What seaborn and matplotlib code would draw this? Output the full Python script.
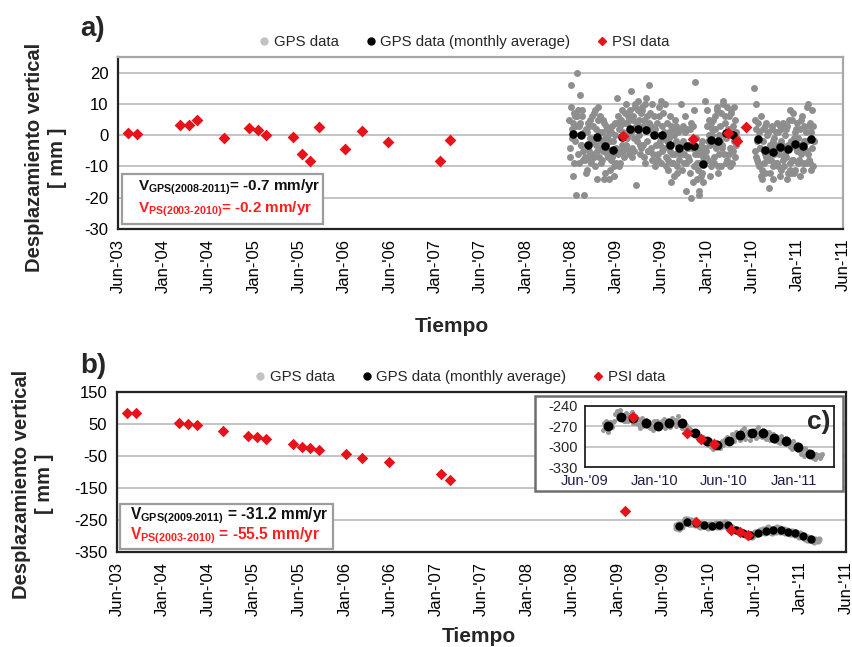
import matplotlib
matplotlib.use("Agg")
import matplotlib.pyplot as plt
from matplotlib.lines import Line2D
from matplotlib.patches import Rectangle
import pandas as pd
import seaborn as sns

sns.set_style("white")
plt.rcParams["font.family"] = ["Liberation Sans", "DejaVu Sans"]
plt.rcParams["mathtext.fontset"] = "custom"
plt.rcParams["mathtext.rm"] = "Liberation Sans"
plt.rcParams["mathtext.bf"] = "Liberation Sans:bold"
plt.rcParams["axes.unicode_minus"] = False

# Time axis: months counted from June 2003, one tick every six months
tick_labels = ["Jun-'03", "Jan-'04", "Jun-'04", "Jan-'05", "Jun-'05", "Jan-'06",
               "Jun-'06", "Jan-'07", "Jun-'07", "Jan-'08", "Jun-'08", "Jan-'09",
               "Jun-'09", "Jan-'10", "Jun-'10", "Jan-'11", "Jun-'11"]
inset_tick_labels = ["Jun-'09", "Jan-'10", "Jun-'10", "Jan-'11"]

# PSI (ENVISAT) acquisitions, shared by both stations
psi_months = [1.3, 2.5, 8.2, 9.4, 10.5, 14.0, 17.3, 18.5, 19.6, 23.2, 24.3, 25.4,
              26.6, 30.1, 32.3, 35.8, 42.7, 43.9, 66.9, 76.2, 80.8, 82.0, 83.1]
psi_a_mm = [0.7, 0.5, 3.2, 3.1, 5.0, -0.9, 2.2, 1.7, 0.0, -0.6, -6.1, -8.3,
            2.5, -4.4, 1.4, -2.2, -8.4, -1.6, -0.4, -1.2, 0.6, -1.9, 2.6]
psi_b_mm = [85, 85, 53, 51, 47, 27, 14, 10, 3, -13, -21, -24,
            -31, -45, -56, -70, -107, -125, -221, -257, -280, -288, -296]

# GPS monthly averages
gps_a_avg_months = [60.2, 61.3, 62.3, 63.4, 64.5, 65.5, 66.8, 67.8, 68.9, 69.9,
                    71.0, 72.0, 73.1, 74.3, 75.3, 76.3, 77.5, 78.5, 79.4, 80.5,
                    81.4, 84.8, 85.7, 86.7, 87.7, 88.7, 89.7, 90.7, 91.7]
gps_a_avg_mm = [0.3, 0.2, -3.0, -0.7, -3.4, -4.6, -0.5, 2.1, 1.9, 1.5,
                0.2, 0.2, -3.0, -4.1, -3.6, -3.6, -9.2, -1.5, -1.9, 0.8,
                0.0, -1.2, -4.7, -5.5, -3.9, -4.5, -2.9, -3.4, -1.2]
gps_b_avg_months = [74.0, 75.1, 76.2, 77.3, 78.3, 79.3, 80.4, 81.5, 82.5,
                    83.4, 84.4, 85.4, 86.4, 87.4, 88.3, 89.3, 90.4, 91.4]
gps_b_avg_mm = [-269, -256, -258, -266, -269, -266, -265, -280, -292,
                -297, -291, -283, -280, -280, -287, -291, -301, -310]

# GPS daily solutions, one row per month
gps_a1_first_month = 59.7
gps_a1_row_months = 1.06
gps_a1_mm = [
    [5, -7, -4, 9, 16, -1, 2, 4, -13, -9, 7, 6, -2, -19, 3, 6],
    [20, 8, -6, -9, 3, 4, 13, -3, -3, 6, 8, -8, -5, 1, -19, -7],
    [-8, -12, 2, 1, -11, -7, 4, 3, -5, 5, -1, -9, -8, 6, -6, -2],
    [3, 7, -7, -10, 8, 2, -3, -5, -14, 9, 5, 1, -7, -4, 6, -2],
    [-9, -8, 1, 5, -5, -14, 4, -1, -12, 3, -3, 2, -6, -7, 0, -5],
    [-14, -11, -2, 1, -8, -7, 3, -2, -6, -13, -10, 0, 4, -4, -9, 4],
    [12, 6, -6, -10, 2, 3, -9, -5, 5, 8, -3, 1, -5, -7, 4, -4],
    [7, 10, -3, -1, 4, 6, 0, -6, 5, 8, -5, 14, 1, -4, -7, 5],
    [6, -5, -1, 10, 9, 3, -16, -2, 4, 11, 8, 0, 5, -6, -3, 7],
    [-4, 9, 8, -3, 3, 5, -7, -9, 10, 12, 2, -2, 6, -5, -5, 4],
    [16, 7, -5, -4, 3, 10, -8, -6, 1, 2, 6, -10, 2, -8, -3, 0],
    [4, -8, -6, 6, 9, -3, -2, 11, -9, -5, 3, 7, 0, -4, 1, -1],
    [10, -10, -7, 4, -2, -8, -11, -1, 1, 6, -5, -15, 3, -9, -6, 2],
    [-9, -13, 0, 5, -6, -2, 3, -10, -12, 1, -3, -8, -6, 2, -5, -3],
    [10, -11, -6, 3, -2, -6, -9, 6, 1, -18, -9, -4, 2, -4, -7, -3],
    [-8, -12, 2, 4, -20, -3, -4, -15, 3, -10, 8, 17, -6, -4, -1, -9],
    [-14, -11, -6, -19, -18, -5, -9, -13, -3, -12, -2, -7, -15, -5, -4, -4],
    [11, -7, -5, 8, 3, -2, -8, 5, 0, -3, -13, 4, -10, 0, 2, -9],
    [5, -9, -7, 6, 2, -3, -4, 9, 8, -10, -12, 0, -6, -2, 3, -10],
    [7, -4, -3, 11, 10, 0, -6, 6, 4, -1, -9, 9, -8, 1, 2, -6],
    [6, -10, -4, 7, 8, 2, -9, -5, 3, -2, 9, 5, -7, -3, 1, -1],
]
gps_a2_first_month = 84.2
gps_a2_row_months = 1.0
gps_a2_mm = [
    [15, 5, -5, -7, 2, 10, -8, -2, 4, -9, -10, 1, -4, -4, 6, -13],
    [-14, -11, -2, 2, -9, -5, 3, -12, -6, 4, -7, 0, -5, -6, 1, -8],
    [-17, -12, -3, -5, -8, 3, 2, -14, -10, -2, -1, -6, -3, -4, -9, 1],
    [-9, 4, 1, -10, -6, -3, 3, -13, -11, 2, -2, -4, -3, 4, -8, -7],
    [-10, -6, 0, 2, -7, -14, 3, -3, -12, 5, -4, 8, -11, -9, -2, -12],
    [5, -8, -8, 7, -1, -12, -11, 1, 2, -4, -5, 4, -1, -9, -3, -3],
    [-8, -13, 2, 5, -6, -4, 6, -9, -11, 3, -2, -5, -2, 1, -9, -2],
    [9, -5, -6, 10, 3, -8, -9, 4, 1, -11, -4, 8, 3, -10, -2, -2],
]
gps_b_first_month = 73.5
gps_b_row_months = 1.0
gps_b_mm = [
    [-275, -266, -272, -262, -270, -278, -264, -268, -271, -264],
    [-262, -252, -248, -258, -255, -247, -260, -253, -263, -262],
    [-250, -257, -262, -254, -261, -249, -265, -256, -260, -266],
    [-260, -268, -272, -262, -258, -270, -266, -261, -269, -264],
    [-264, -272, -268, -275, -262, -270, -266, -263, -271, -269],
    [-270, -262, -267, -259, -272, -265, -261, -268, -271, -265],
    [-258, -266, -261, -270, -263, -255, -268, -264, -272, -273],
    [-266, -270, -268, -274, -272, -278, -276, -281, -277, -278],
    [-280, -284, -283, -290, -286, -292, -285, -291, -289, -290],
    [-292, -298, -290, -300, -294, -303, -296, -299, -293, -295],
    [-298, -302, -295, -291, -297, -289, -293, -286, -290, -289],
    [-289, -281, -287, -292, -283, -279, -286, -284, -290, -279],
    [-276, -284, -272, -288, -279, -283, -277, -290, -280, -281],
    [-283, -275, -287, -279, -271, -284, -278, -286, -276, -281],
    [-281, -288, -283, -279, -290, -284, -287, -282, -291, -285],
    [-286, -293, -288, -295, -284, -291, -289, -296, -287, -291],
    [-293, -300, -295, -303, -292, -299, -301, -296, -304, -297],
    [-303, -310, -305, -313, -302, -309, -311, -306, -314, -307],
    [-309, -316, -311, -318, -310, -314, -312, -317, -313, -310],
]

RED = "#e8121a"
TEXT_RED = "#ff1f1f"


def daily_frame(first_month, row_months, rows):
    """Spread each month's samples evenly over that month."""
    recs = []
    for r, vals in enumerate(rows):
        n = len(vals)
        for i, v in enumerate(vals):
            recs.append((first_month + (r + (i + 0.5) / n) * row_months, v))
    return pd.DataFrame(recs, columns=["month", "mm"])


gps_a_daily = pd.concat([daily_frame(gps_a1_first_month, gps_a1_row_months, gps_a1_mm),
                         daily_frame(gps_a2_first_month, gps_a2_row_months, gps_a2_mm)])
gps_b_daily = daily_frame(gps_b_first_month, gps_b_row_months, gps_b_mm)
psi_a = pd.DataFrame({"month": psi_months, "mm": psi_a_mm})
psi_b = pd.DataFrame({"month": psi_months, "mm": psi_b_mm})
avg_a = pd.DataFrame({"month": gps_a_avg_months, "mm": gps_a_avg_mm})
avg_b = pd.DataFrame({"month": gps_b_avg_months, "mm": gps_b_avg_mm})


def draw_points(ax, daily, avg, psi, gray, gray_s, avg_s, psi_s):
    sns.scatterplot(data=daily, x="month", y="mm", ax=ax, color=gray, s=gray_s,
                    linewidth=0, zorder=2, legend=False)
    sns.scatterplot(data=avg, x="month", y="mm", ax=ax, color="black", s=avg_s,
                    linewidth=0, zorder=3, legend=False)
    sns.scatterplot(data=psi, x="month", y="mm", ax=ax, color=RED, marker="D",
                    s=psi_s, linewidth=0, zorder=4, legend=False)
    ax.set_xlabel("")
    ax.set_ylabel("")


def style_main(ax, ylim, yticks, frame_color):
    ax.set_xlim(0, 96)
    ax.set_ylim(*ylim)
    ax.set_xticks(range(0, 97, 6))
    ax.set_xticklabels(tick_labels, rotation=90)
    ax.set_yticks(yticks)
    ax.yaxis.grid(True, color="#c4c4c4", linewidth=1.4)
    ax.xaxis.grid(False)
    ax.set_axisbelow(True)
    ax.tick_params(axis="both", direction="out", length=5, width=1.3,
                   colors="black", labelsize=12, pad=2)
    for side in ("left", "bottom"):
        ax.spines[side].set_color("#222222")
        ax.spines[side].set_linewidth(1.6)
    for side in ("top", "right"):
        ax.spines[side].set_color(frame_color)
        ax.spines[side].set_linewidth(1.6)


def rate_box(ax, rect, x, y1, y2, gps_text, ps_text, size):
    ax.add_patch(Rectangle(rect[:2], rect[2], rect[3], transform=ax.transAxes,
                           facecolor="white", edgecolor="#9c9c9c", linewidth=1.6,
                           zorder=5, clip_on=False))
    ax.text(x, y1, gps_text, transform=ax.transAxes, fontsize=size,
            fontweight="bold", color="#111111", va="center", zorder=6)
    ax.text(x, y2, ps_text, transform=ax.transAxes, fontsize=size,
            fontweight="bold", color=TEXT_RED, va="center", zorder=6)


fig = plt.figure(figsize=(8.52, 6.47), dpi=100)
W, H = 852.0, 647.0


def px_axes(x0, y0, x1, y1):
    return fig.add_axes([x0 / W, 1 - y1 / H, (x1 - x0) / W, (y1 - y0) / H])


# ---- a) station with stable GPS ----
ax_a = px_axes(118, 57, 843, 229)
draw_points(ax_a, gps_a_daily, avg_a, psi_a, "#8e8e8e", 25, 38, 36)
style_main(ax_a, (-30, 25), [-30, -20, -10, 0, 10, 20], "#a8a8a8")
rate_box(ax_a, (0.006, 0.03, 0.277, 0.29), 0.027, 0.245, 0.115,
         "V$_{\\mathbf{GPS(2008\u20102011)}}$= -0.7 mm/yr",
         "V$_{\\mathbf{PS(2003\u20102010)}}$= -0.2 mm/yr", 11)

# ---- b) subsiding station ----
ax_b = px_axes(117, 392, 846, 552)
draw_points(ax_b, gps_b_daily, avg_b, psi_b, "#9a9a9a", 20, 36, 34)
style_main(ax_b, (-350, 150), [-350, -250, -150, -50, 50, 150], "#222222")
rate_box(ax_b, (0.004, 0.02, 0.292, 0.28), 0.018, 0.227, 0.1,
         "V$_{\\mathbf{GPS(2009\u20102011)}}$ = -31.2 mm/yr",
         "V$_{\\mathbf{PS(2003\u20102010)}}$ = -55.5 mm/yr", 11.2)

# ---- c) zoom on the GPS period of b) ----
fig.add_artist(Rectangle((535 / W, 1 - 490.7 / H), 307.7 / W, 94.7 / H,
                         transform=fig.transFigure, facecolor="white",
                         edgecolor="#6e6e6e", linewidth=1.8, zorder=3))
ax_c = px_axes(584.7, 405.7, 834.3, 467.3)
ax_c.set_zorder(4)
draw_points(ax_c, gps_b_daily, avg_b, psi_b, "#999999", 13, 50, 36)
ax_c.set_xlim(72, 93.5)
ax_c.set_ylim(-330, -240)
ax_c.set_xticks([72, 78, 84, 90])
ax_c.set_xticklabels(inset_tick_labels)
ax_c.set_yticks([-330, -300, -270, -240])
ax_c.yaxis.grid(True, color="#c4c4c4", linewidth=1.3)
ax_c.set_axisbelow(True)
ax_c.tick_params(axis="both", direction="out", length=4, width=1.2,
                 labelsize=10.5, pad=1)
for lab in ax_c.get_xticklabels():
    lab.set_color("#1e1c44")
for side in ax_c.spines.values():
    side.set_color("#222222")
    side.set_linewidth(1.3)
ax_c.text(0.985, 0.74, "c)", transform=ax_c.transAxes, fontsize=19,
          fontweight="bold", ha="right", va="center")

# ---- labels and legends ----
ylab = "Desplazamiento vertical\n[ mm ]"
fig.text(46 / W, 1 - 157.5 / H, ylab, rotation=90, ha="center", va="center",
         fontsize=14.5, fontweight="bold", linespacing=1.3)
fig.text(33 / W, 1 - 484 / H, ylab, rotation=90, ha="center", va="center",
         fontsize=14.5, fontweight="bold", linespacing=1.3)
fig.text(452 / W, 1 - 326.5 / H, "Tiempo", ha="center", va="center",
         fontsize=15, fontweight="bold")
fig.text(479 / W, 1 - 636.5 / H, "Tiempo", ha="center", va="center",
         fontsize=15, fontweight="bold")
fig.text(80 / W, 1 - 29 / H, "a)", ha="left", va="center", fontsize=20,
         fontweight="bold")
fig.text(80 / W, 1 - 366 / H, "b)", ha="left", va="center", fontsize=20,
         fontweight="bold")

handles = [
    Line2D([], [], ls="", marker="o", markersize=5, color="#c2c2c2", label="GPS data"),
    Line2D([], [], ls="", marker="o", markersize=5, color="black",
           label="GPS data (monthly average)"),
    Line2D([], [], ls="", marker="D", markersize=4.5, color=RED, label="PSI data"),
]
for ycen, xcen in ((42, 463), (377, 459)):
    fig.legend(handles=handles, loc="center", bbox_to_anchor=(xcen / W, 1 - ycen / H),
               ncol=3, frameon=False, fontsize=10.8, handletextpad=0.15,
               columnspacing=1.6, handlelength=1.0, borderpad=0)

fig.savefig("out.png", dpi=100)
